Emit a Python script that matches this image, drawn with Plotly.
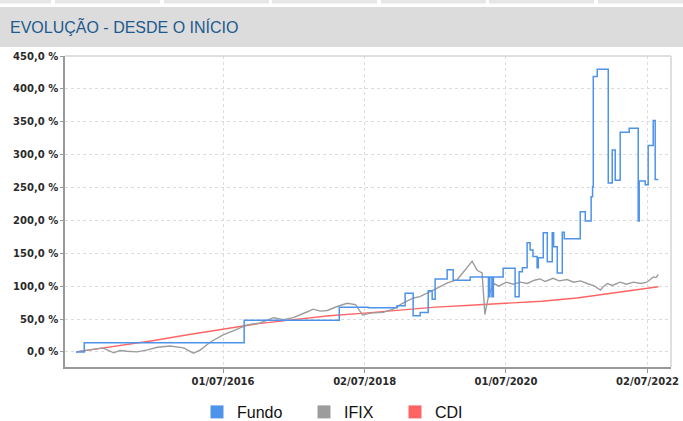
import pandas as pd
import plotly.graph_objects as go

# ---- data (decimal years, values in %) ----
fundo_t = [2014.42, 2014.535, 2016.797, 2018.140, 2018.549, 2018.959, 2019.072, 2019.185,
           2019.284, 2019.398, 2019.454, 2019.496, 2019.666, 2019.751, 2019.991, 2020.25,
           2020.27, 2020.30, 2020.32, 2020.458, 2020.627, 2020.684, 2020.73, 2020.797,
           2020.839, 2020.88, 2020.938, 2020.955, 2021.023, 2021.080, 2021.150, 2021.17,
           2021.221, 2021.292, 2021.32, 2021.546, 2021.617, 2021.70, 2021.72, 2021.730,
           2021.786, 2021.942, 2021.998, 2022.041, 2022.111, 2022.239, 2022.366, 2022.38,
           2022.465, 2022.507, 2022.578, 2022.606, 2022.649]
fundo_v = [0, 14, 48, 68, 67, 70, 89, 55,
           60, 93, 80, 111, 125, 109, 114, 84,
           114, 84, 114, 127, 84, 122, 128, 166,
           155, 145, 128, 143, 181, 137, 181, 160,
           120, 182, 172, 213, 199, 236, 251, 419,
           430, 257, 307, 261, 334, 340, 199, 260,
           254, 314, 352, 262, 262]

ifix_t = [2014.42, 2014.62, 2014.80, 2014.95, 2015.04, 2015.14, 2015.28, 2015.43, 2015.57,
          2015.75, 2015.94, 2016.08, 2016.18, 2016.32, 2016.50, 2016.64, 2016.84, 2017.02,
          2017.21, 2017.35, 2017.49, 2017.69, 2017.77, 2017.87, 2017.97, 2018.11, 2018.25,
          2018.37, 2018.47, 2018.58, 2018.76, 2018.90, 2019.04, 2019.19, 2019.28, 2019.47,
          2019.67, 2019.81, 2019.95, 2020.02, 2020.09, 2020.16, 2020.20, 2020.25, 2020.32,
          2020.40, 2020.50, 2020.60, 2020.70, 2020.80, 2020.90, 2020.98, 2021.05, 2021.16,
          2021.25, 2021.36, 2021.45, 2021.55, 2021.645, 2021.75, 2021.83, 2021.87, 2021.93,
          2022.00, 2022.11, 2022.20, 2022.30, 2022.40, 2022.49, 2022.58, 2022.62, 2022.65]
ifix_v = [0, 3, 6, -1.5, 2, 1, 0, 3, 7,
          9, 6, -2, 3, 15, 26, 32, 41, 44,
          52, 49, 52, 61, 65, 62, 63, 69, 74,
          72, 56, 59, 60, 65, 74, 82, 84, 94,
          105, 110, 129, 138, 124, 120, 57, 84, 104,
          100, 106, 103, 106, 104, 109, 111, 107, 112,
          108, 110, 106, 108, 104, 100, 94, 99, 104,
          101, 106, 103, 106, 104, 106, 114, 113, 118]

cdi_t = [2014.42, 2015.0, 2015.5, 2016.0, 2016.5, 2017.0, 2017.5, 2018.0, 2018.5,
         2019.0, 2019.5, 2020.0, 2020.5, 2021.0, 2021.5, 2022.0, 2022.3, 2022.65]
cdi_v = [0, 9, 17, 26, 35, 43, 49, 55, 59,
         64, 68, 71, 74, 77, 82, 89, 93, 99]

tick_dates = ["2016-07-01", "2018-07-02", "2020-07-01", "2022-07-02"]
tick_text = ["01/07/2016", "02/07/2018", "01/07/2020", "02/07/2022"]
x_range = ["2014-04-07", "2022-10-31"]


def to_dates(ts):
    out = []
    for t in ts:
        y = int(t)
        out.append(pd.Timestamp(year=y, month=1, day=1) + pd.Timedelta(days=(t - y) * 365.25))
    return out


BLUE = "#4d93ea"
GRAY = "#9c9c9c"
RED = "#ff6464"

fig = go.Figure()
fig.add_trace(go.Scatter(x=to_dates(cdi_t), y=cdi_v, mode="lines", name="CDI",
                         line=dict(color=RED, width=1.4), showlegend=False))
fig.add_trace(go.Scatter(x=to_dates(ifix_t), y=ifix_v, mode="lines", name="IFIX",
                         line=dict(color=GRAY, width=1.4), showlegend=False))
fig.add_trace(go.Scatter(x=to_dates(fundo_t), y=fundo_v, mode="lines", name="Fundo",
                         line=dict(color=BLUE, width=1.5, shape="hv"), showlegend=False))

# legend entries (square swatches)
leg_font = dict(family="Liberation Sans, Arial", size=16, color="#111")
for name, col, lg in [("Fundo", BLUE, "legend"), ("IFIX", GRAY, "legend2"), ("CDI", RED, "legend3")]:
    fig.add_trace(go.Scatter(x=[None], y=[None], mode="markers", name=name, legend=lg,
                             marker=dict(symbol="square", size=13, color=col)))

W, H = 683, 421
L, R, T, B = 65, 12, 56, 54
pw, ph = W - L - R, H - T - B


def px(xp):
    return (xp - L) / pw


def py(yp):
    return (H - B - yp) / ph


shapes = []
# header band
shapes.append(dict(type="rect", xref="paper", yref="paper", x0=px(0), x1=px(W), y0=py(47), y1=py(7),
                   fillcolor="#dcdcdc", line=dict(width=0), layer="below"))
# top tab strip
for a, b in [(0, 51), (55, 160), (164, 269), (272, 377), (381, 486), (489, 594), (598, 683)]:
    shapes.append(dict(type="rect", xref="paper", yref="paper", x0=px(a), x1=px(b), y0=py(3.5), y1=py(0),
                       fillcolor="#e6e6e6", line=dict(width=0), layer="below"))
# top/right plot border
shapes.append(dict(type="line", xref="paper", yref="paper", x0=0, x1=1, y0=1, y1=1,
                   line=dict(color="#d4d4d4", width=1.5)))
shapes.append(dict(type="line", xref="paper", yref="paper", x0=1, x1=1, y0=0, y1=1,
                   line=dict(color="#d4d4d4", width=1.5)))

tick_font = dict(family="DejaVu Sans", size=10, color="#2a2a2a", weight="bold")

leg_y = 1 - 412 / H
fig.update_layout(
    width=W, height=H,
    margin=dict(l=L, r=R, t=T, b=B, autoexpand=False),
    paper_bgcolor="white", plot_bgcolor="white",
    separators=",.",
    title=dict(text="EVOLUÇÃO - DESDE O INÍCIO", xref="container", yref="container",
               x=10 / W, y=1 - 27 / H, xanchor="left", yanchor="middle",
               font=dict(family="Liberation Sans, Arial", size=16, color="#1d5a8e")),
    shapes=shapes,
    xaxis=dict(type="date", range=x_range, tickvals=tick_dates, ticktext=tick_text,
               showgrid=True, gridcolor="#dcdcdc", griddash="3px,3px", gridwidth=1,
               showline=True, linecolor="#999999", linewidth=1.5,
               ticks="outside", ticklen=4, tickcolor="#999999", tickfont=tick_font, zeroline=False),
    yaxis=dict(range=[-23, 450], dtick=50, tick0=0, tickformat=".1f", ticksuffix=" %",
               showgrid=True, gridcolor="#dcdcdc", griddash="3px,3px", gridwidth=1,
               showline=True, linecolor="#999999", linewidth=1.5,
               ticks="outside", ticklen=3, tickcolor="#999999", tickfont=tick_font, zeroline=False),
    legend=dict(xref="container", yref="container", x=197 / W, y=leg_y,
                xanchor="left", yanchor="middle", font=leg_font, bgcolor="rgba(0,0,0,0)"),
    legend2=dict(xref="container", yref="container", x=304 / W, y=leg_y,
                 xanchor="left", yanchor="middle", font=leg_font, bgcolor="rgba(0,0,0,0)"),
    legend3=dict(xref="container", yref="container", x=395 / W, y=leg_y,
                 xanchor="left", yanchor="middle", font=leg_font, bgcolor="rgba(0,0,0,0)"),
)

fig.write_html("out.html", config={"displayModeBar": False},
               post_script="document.body.style.margin='0';document.body.style.padding='0';")
